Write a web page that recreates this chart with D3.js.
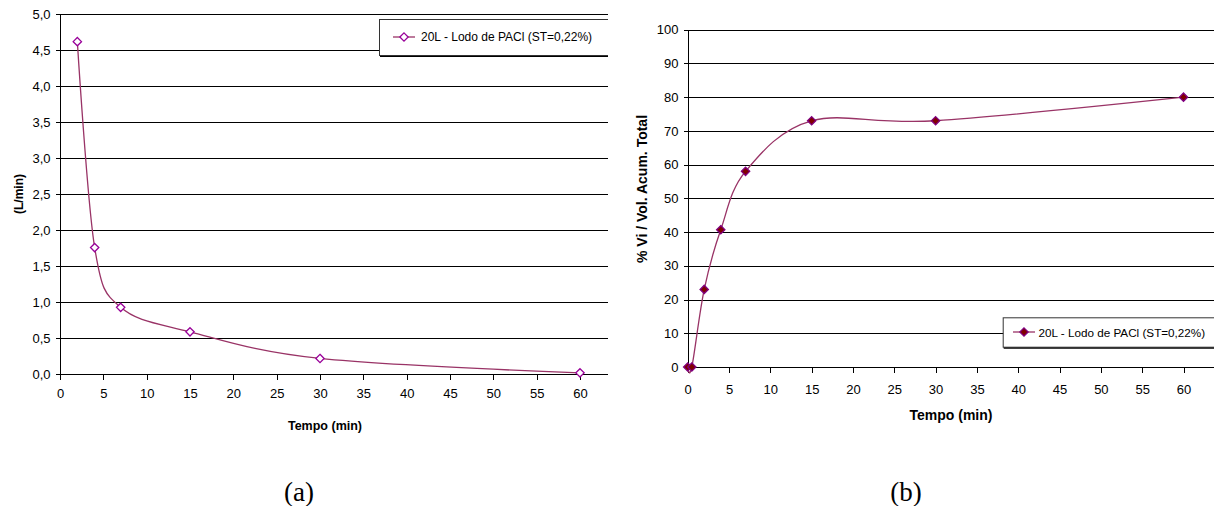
<!DOCTYPE html>
<html>
<head>
<meta charset="utf-8">
<script src="https://cdn.jsdelivr.net/npm/d3@7"></script>
<style>
  html, body { margin: 0; padding: 0; background: #fff; }
  svg { display: block; }
  text { font-family: "Liberation Sans", Arial, sans-serif; fill: #000; }
</style>
</head>
<body>
<svg id="fig" width="1214" height="506"></svg>
<script>
// Flow rate vs. time (a)
const timeA = [2, 4, 7, 15, 30, 60];
const flowA = [4.62, 1.76, 0.93, 0.59, 0.22, 0.02];
// Accumulated volume percentage vs. time (b)
const timeB = [0, 0.5, 2, 4, 7, 15, 30, 60];
const pctB = [0, 0, 23, 40.7, 58, 73, 73, 80];

const xTicks = [0, 5, 10, 15, 20, 25, 30, 35, 40, 45, 50, 55, 60];
const yTicksA = [0, 0.5, 1, 1.5, 2, 2.5, 3, 3.5, 4, 4.5, 5];
const yTicksB = [0, 10, 20, 30, 40, 50, 60, 70, 80, 90, 100];

const seriesName = "20L - Lodo de PACl (ST=0,22%)";
const lineColor = "#993366";

const svg = d3.select("#fig");
const fmtComma = d => d3.format(".1f")(d).replace(".", ",");
const smooth = d3.curveCardinal.tension(0);

function drawPanel(cfg) {
  const g = svg.append("g");
  if (cfg.clipRight) {
    const id = "clip" + cfg.key;
    svg.append("clipPath").attr("id", id)
      .append("rect").attr("x", 0).attr("y", 0).attr("width", cfg.clipRight).attr("height", 506);
    g.attr("clip-path", `url(#${id})`);
  }
  const { x, y, left, right, top, bottom } = cfg;

  // horizontal gridlines
  g.append("g").selectAll("line").data(cfg.yTicks).join("line")
    .attr("x1", left).attr("x2", right)
    .attr("y1", d => Math.round(y(d)) + 0.5).attr("y2", d => Math.round(y(d)) + 0.5)
    .attr("stroke", "#000").attr("stroke-width", 1).attr("shape-rendering", "crispEdges");

  // y axis
  const yAxis = g.append("g").attr("transform", `translate(${Math.round(left) + 0.5},0)`)
    .call(d3.axisLeft(y).tickValues(cfg.yTicks).tickFormat(cfg.yFormat).tickSizeOuter(0).tickSize(5).tickPadding(5));
  yAxis.select(".domain").remove();
  yAxis.append("line").attr("x1", 0).attr("x2", 0).attr("y1", top).attr("y2", bottom + 0.5)
    .attr("stroke", "#000").attr("shape-rendering", "crispEdges");
  yAxis.selectAll(".tick line").attr("stroke", "#000").attr("shape-rendering", "crispEdges");
  yAxis.selectAll(".tick text").attr("font-size", 13).attr("fill", "#000");

  // x axis
  const xAxis = g.append("g").attr("transform", `translate(0,${Math.round(bottom) + 0.5})`)
    .call(d3.axisBottom(x).tickValues(xTicks).tickFormat(d3.format("d")).tickSizeOuter(0).tickSize(5).tickPadding(cfg.xPad));
  xAxis.select(".domain").remove();
  xAxis.append("line").attr("x1", left).attr("x2", right).attr("y1", 0).attr("y2", 0)
    .attr("stroke", "#000").attr("shape-rendering", "crispEdges");
  xAxis.selectAll(".tick line").attr("stroke", "#000").attr("shape-rendering", "crispEdges");
  xAxis.selectAll(".tick text").attr("font-size", 13).attr("fill", "#000");

  // smoothed series line
  const pts = cfg.xs.map((t, i) => [t, cfg.ys[i]]);
  g.append("path").datum(pts)
    .attr("d", d3.line().x(d => x(d[0])).y(d => y(d[1])).curve(smooth))
    .attr("fill", "none").attr("stroke", lineColor).attr("stroke-width", 1.3);

  // markers
  const sym = d3.symbol().type(d3.symbolDiamond2).size(cfg.markerSize);
  g.append("g").selectAll("path").data(pts).join("path")
    .attr("d", sym)
    .attr("transform", d => `translate(${x(d[0])},${y(d[1])})`)
    .attr("fill", cfg.markerFill).attr("stroke", cfg.markerStroke).attr("stroke-width", 1.3);

  // axis titles
  g.append("text").attr("x", cfg.xTitleX).attr("y", cfg.xTitleY)
    .attr("text-anchor", "middle").attr("dominant-baseline", "central")
    .attr("font-weight", "bold").attr("font-size", cfg.xTitleSize).text("Tempo (min)");
  g.append("text")
    .attr("transform", `translate(${cfg.yTitleX},${cfg.yTitleY}) rotate(-90)`)
    .attr("text-anchor", "middle").attr("dominant-baseline", "central")
    .attr("font-weight", "bold").attr("font-size", cfg.yTitleSize).text(cfg.yTitle);

  // legend
  const L = cfg.legend;
  const lg = g.append("g");
  lg.append("line").attr("x1", L.x + 1).attr("x2", L.x + L.w + 1)
    .attr("y1", L.y + L.h + 1).attr("y2", L.y + L.h + 1)
    .attr("stroke", "#000").attr("stroke-width", 2);
  lg.append("rect").attr("x", L.x + 0.5).attr("y", L.y + 0.5).attr("width", L.w).attr("height", L.h)
    .attr("fill", "#fff").attr("stroke", "#333").attr("stroke-width", 1);
  const cy = L.y + L.h / 2;
  lg.append("line").attr("x1", L.lineX0).attr("x2", L.lineX1).attr("y1", cy).attr("y2", cy)
    .attr("stroke", lineColor).attr("stroke-width", 1.3);
  lg.append("path").attr("d", sym)
    .attr("transform", `translate(${(L.lineX0 + L.lineX1) / 2},${cy})`)
    .attr("fill", cfg.markerFill).attr("stroke", cfg.markerStroke).attr("stroke-width", 1.3);
  lg.append("text").attr("x", L.textX).attr("y", cy)
    .attr("dominant-baseline", "central").attr("font-size", L.fontSize).text(seriesName);

  // panel caption
  svg.append("text").attr("x", cfg.capX).attr("y", 492)
    .attr("text-anchor", "middle").attr("dominant-baseline", "central")
    .style("font-family", "'Liberation Serif', 'Times New Roman', serif")
    .attr("font-size", 27).text(cfg.caption);
}

// Panel (a)
{
  const left = 60, right = 608, top = 14.3, bottom = 374.3;
  const x = d3.scaleLinear().domain([0, 60]).range([left, 580]);
  const y = d3.scaleLinear().domain([0, 5]).range([bottom, top]);
  drawPanel({
    key: "a", clipRight: 608, x, y, left, right, top, bottom,
    xs: timeA, ys: flowA, yTicks: yTicksA, yFormat: fmtComma, xPad: 9,
    markerSize: 44, markerFill: "#fff", markerStroke: "#990099",
    xTitleX: 325, xTitleY: 426, xTitleSize: 12.5,
    yTitle: "(L/min)", yTitleX: 19, yTitleY: 194, yTitleSize: 12,
    legend: { x: 379, y: 19, w: 260, h: 36, lineX0: 393, lineX1: 415, textX: 421, fontSize: 12 },
    capX: 299, caption: "(a)"
  });
}

// Panel (b)
{
  const left = 687.7, right = 1214, top = 29.7, bottom = 367;
  const x = d3.scaleLinear().domain([0, 60]).range([left, 1183.5]);
  const y = d3.scaleLinear().domain([0, 100]).range([bottom, top]);
  drawPanel({
    key: "b", x, y, left, right, top, bottom,
    xs: timeB, ys: pctB, yTicks: yTicksB, yFormat: d3.format("d"), xPad: 12,
    markerSize: 44, markerFill: "#800000", markerStroke: "#800080",
    xTitleX: 951, xTitleY: 415, xTitleSize: 14,
    yTitle: "% Vi / Vol. Acum. Total", yTitleX: 642, yTitleY: 189, yTitleSize: 14,
    legend: { x: 1002.7, y: 317.3, w: 240, h: 29.4, lineX0: 1013, lineX1: 1035, textX: 1038.5, fontSize: 11.7 },
    capX: 906, caption: "(b)"
  });
}
</script>
</body>
</html>
